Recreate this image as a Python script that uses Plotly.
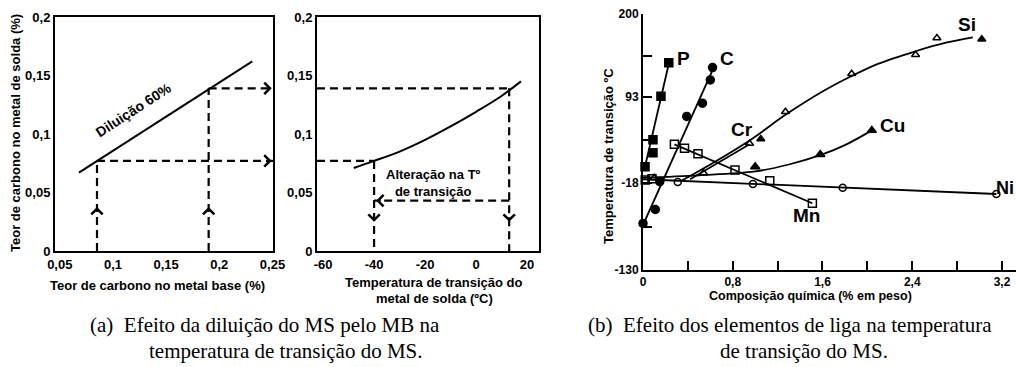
import plotly.graph_objects as go

W, H = 1016, 367

# ---------------- (a) left panel: dilution ----------------
dil_base = [0.068, 0.231]          # base-metal carbon along the 60% dilution line
dil_weld = [0.067, 0.162]          # weld-metal carbon along the line
sel_base = [0.085, 0.19]           # two base-metal carbon contents picked
sel_weld = [0.077, 0.139]          # resulting weld-metal carbon
xa_ticks = [0.05, 0.1, 0.15, 0.2, 0.25]
xa_labels = ['0,05', '0,1', '0,15', '0,2', '0,25']
yc_ticks = [0, 0.05, 0.1, 0.15, 0.2]
yc_labels = ['0', '0,05', '0,1', '0,15', '0,2']

# ---------------- middle panel: transition temperature ----------------
curve_temp = [-48, -40, -30, -20, -10, 0, 10, 17.6]
curve_carbon = [0.071, 0.077, 0.085, 0.095, 0.1065, 0.119, 0.1325, 0.145]
sel_temp = [-40, 13]
shift_level = 0.043
xm_ticks = [-60, -40, -20, 0, 20]
xm_labels = ['-60', '-40', '-20', '0', '20']

# ---------------- (b) right panel: alloying elements ----------------
P_x = [0.018, 0.089, 0.089, 0.16, 0.23]
P_y = [3, 21, 38, 94, 137]
P_line_x = [0.018, 0.235]
P_line_y = [3, 139]

C_x = [0.0, 0.11, 0.15, 0.39, 0.53, 0.60, 0.62]
C_y = [-70, -52, -16, 68, 85, 115, 131]
C_line_x = [0.0, 0.63]
C_line_y = [-72, 131]

Mn_x = [0.02, 0.08, 0.28, 0.37, 0.49, 0.82, 1.13, 1.51]
Mn_y = [-14, -12.5, 32, 27, 20, -1, -15, -44]
Mn_line_x = [0.28, 1.51]
Mn_line_y = [32, -44]

Ni_x = [0.31, 0.98, 1.78, 3.15]
Ni_y = [-16.5, -19, -24, -32]
Ni_line_x = [0.0, 3.15]
Ni_line_y = [-13, -32]

Cr_x = [0.10, 0.54, 0.95]
Cr_y = [-11, -5, 33]
Cr_line_x = [0.42, 0.95]
Cr_line_y = [-13, 32]

Si_x = [1.05, 1.27, 1.86, 2.43, 2.62, 3.02]
Si_y = [39, 74, 123, 147.5, 169, 167.5]
Si_filled = [True, False, False, False, False, True]
Si_curve_x = [0.33, 0.6, 0.95, 1.27, 1.6, 1.86, 2.1, 2.43, 2.7, 2.94]
Si_curve_y = [-16, 6, 37, 70, 100, 120, 136, 152, 163, 170]

Cu_x = [1.0, 1.58, 2.04]
Cu_y = [3, 19, 50]
Cu_curve_x = [0.0, 0.5, 1.0, 1.3, 1.58, 1.8, 2.04]
Cu_curve_y = [-11, -8, -3, 6, 18, 31, 50]

elem_names = ['P', 'C', 'Si', 'Cu', 'Cr', 'Mn', 'Ni']
elem_lab_x = [0.357, 0.749, 2.885, 2.22, 0.88, 1.46, 3.325]
elem_lab_y = [142.6, 142.6, 186, 56, 51, -59.5, -24]

xr_ticks = [0, 0.4, 0.8, 1.2, 1.6, 2.0, 2.4, 2.8, 3.2]
xr_labels = ['0', '', '0,8', '', '1,6', '', '2,4', '', '3,2']
yr_ticks = [-130, -74, -18, 37.5, 93, 146.5, 200]
yr_labels = ['-130', '', '-18', '', '93', '', '200']

# ---------------- figure ----------------
FONT = 'Liberation Sans, Arial, sans-serif'
SERIF = 'Liberation Serif, Times New Roman, serif'
DASH = '8px,5px'
DW = 2.2
fig = go.Figure()

XA_RANGE = [0.0455, 0.2505]
XM_RANGE = [-62.4, 24.7]


def line(x, y, xa, ya, dash=None, width=2, shape='linear'):
    fig.add_trace(go.Scatter(x=x, y=y, xaxis=xa, yaxis=ya, mode='lines',
                             line=dict(color='black', width=width, dash=dash, shape=shape),
                             hoverinfo='skip', showlegend=False, cliponaxis=False))


# left panel
line(dil_base, dil_weld, 'x', 'y')
for b, w in zip(sel_base, sel_weld):
    line([b, b], [0, w], 'x', 'y', dash=DASH, width=DW)
    line([b, XA_RANGE[1]], [w, w], 'x', 'y', dash=DASH, width=DW)

# middle panel
line(curve_temp, curve_carbon, 'x2', 'y2', shape='spline')
for t, w in zip(sel_temp, sel_weld):
    line([XM_RANGE[0], t], [w, w], 'x2', 'y2', dash=DASH, width=DW)
    line([t, t], [w, 0], 'x2', 'y2', dash=DASH, width=DW)
line([sel_temp[1], sel_temp[0]], [shift_level, shift_level], 'x2', 'y2', dash=DASH, width=DW)

# right panel lines
line(P_line_x, P_line_y, 'x3', 'y3', width=1.8)
line(C_line_x, C_line_y, 'x3', 'y3', width=1.8)
line(Mn_line_x, Mn_line_y, 'x3', 'y3', width=1.8)
line(Ni_line_x, Ni_line_y, 'x3', 'y3', width=1.8)
line(Cr_line_x, Cr_line_y, 'x3', 'y3', width=1.8)
line(Si_curve_x, Si_curve_y, 'x3', 'y3', width=1.8, shape='spline')
line(Cu_curve_x, Cu_curve_y, 'x3', 'y3', width=1.8, shape='spline')


def markers(x, y, symbol, size=7):
    fig.add_trace(go.Scatter(x=x, y=y, xaxis='x3', yaxis='y3', mode='markers',
                             marker=dict(symbol=symbol, size=size, color='black',
                                         line=dict(color='black', width=1.5)),
                             hoverinfo='skip', showlegend=False, cliponaxis=False))


markers(P_x, P_y, 'square', 8)
markers(C_x, C_y, 'circle', 8)
markers(Mn_x, Mn_y, 'square-open', 8)
markers(Ni_x, Ni_y, 'circle-open', 7)
markers(Cr_x, Cr_y, 'triangle-up-open', 7)
markers(Si_x, Si_y, ['triangle-up' if f else 'triangle-up-open' for f in Si_filled], 7)
markers(Cu_x, Cu_y, 'triangle-up', 8)

ann = []
# element labels
for n, x, y in zip(elem_names, elem_lab_x, elem_lab_y):
    ann.append(dict(x=x, y=y, xref='x3', yref='y3', text=n, showarrow=False,
                    xanchor='right' if n == 'Ni' else 'center',
                    font=dict(family=FONT, size=18 if n == 'Ni' else 19,
                              color='black', weight='bold')))


def chevron(x, y, xref, yref, ax, ay):
    ann.append(dict(x=x, y=y, xref=xref, yref=yref, ax=ax, ay=ay, text='',
                    showarrow=True, arrowhead=4, arrowsize=1.1, arrowwidth=2,
                    arrowcolor='black', standoff=0))


for b, w in zip(sel_base, sel_weld):
    chevron(XA_RANGE[1] - 0.0012, w, 'x', 'y', -6, 0)
    chevron(b, 0.0376, 'x', 'y', 0, 6)
for t in sel_temp:
    chevron(t, 0.025, 'x2', 'y2', 0, -6)
chevron(sel_temp[0] + 0.8, shift_level, 'x2', 'y2', 6, 0)

ann.append(dict(x=0.119, y=0.1205, xref='x', yref='y', text='Diluição 60%',
                textangle=-33, showarrow=False,
                font=dict(family=FONT, size=14, color='black', weight='bold')))
ann.append(dict(x=-16.5, y=0.0585, xref='x2', yref='y2',
                text='Alteração na Tº<br>de transição', showarrow=False,
                font=dict(family=FONT, size=13, color='black', weight='bold')))


def ptext(text, px, py, size=13, angle=0, family=FONT, weight='bold'):
    ann.append(dict(x=px / W, y=1 - py / H, xref='paper', yref='paper', text=text,
                    showarrow=False, textangle=angle, xanchor='center', yanchor='middle',
                    font=dict(family=family, size=size, color='black', weight=weight)))


ptext('Teor de carbono no metal de solda (%)', 15, 133, angle=-90)
ptext('Teor de carbono no metal base (%)', 157, 285)
ptext('Temperatura de transição do', 434, 282)
ptext('metal de solda (ºC)', 434, 298)
ptext('Temperatura de transição ºC', 608, 156, angle=-90)
ptext('Composição química (% em peso)', 810, 296, size=12.5)

ptext('(a)  Efeito da diluição do MS pelo MB na', 265, 325, size=21, family=SERIF, weight='normal')
ptext('temperatura de transição do MS.', 286, 351, size=21, family=SERIF, weight='normal')
ptext('(b)  Efeito dos elementos de liga na temperatura', 790, 325, size=21, family=SERIF, weight='normal')
ptext('de transição do MS.', 804, 351, size=21, family=SERIF, weight='normal')

tickfont = dict(family=FONT, size=13, color='black', weight='bold')
box_axis = dict(showline=True, linewidth=2, linecolor='black', mirror=True,
                showgrid=False, zeroline=False, ticks='', tickfont=tickfont,
                automargin=False)
y_dom = [1 - 251 / H, 1 - 17 / H]

fig.update_layout(
    width=W, height=H,
    margin=dict(l=0, r=0, t=0, b=0, autoexpand=False),
    paper_bgcolor='white', plot_bgcolor='white',
    showlegend=False,
    annotations=ann,
    xaxis=dict(domain=[55 / W, 273 / W], range=XA_RANGE, anchor='y',
               tickvals=xa_ticks, ticktext=xa_labels, **box_axis),
    yaxis=dict(domain=y_dom, range=[0, 0.2], anchor='x',
               tickvals=yc_ticks, ticktext=yc_labels, **box_axis),
    xaxis2=dict(domain=[317 / W, 539 / W], range=XM_RANGE, anchor='y2',
                tickvals=xm_ticks, ticktext=xm_labels, **box_axis),
    yaxis2=dict(domain=y_dom, range=[0, 0.2], anchor='x2',
                tickvals=yc_ticks, ticktext=yc_labels, **box_axis),
    xaxis3=dict(domain=[643 / W, 1.0], range=[0, 3.325], anchor='y3',
                showline=True, linewidth=2, linecolor='black', showgrid=False,
                zeroline=False, ticks='inside', ticklen=9, tickwidth=2, tickcolor='black',
                tickvals=xr_ticks, ticktext=xr_labels, automargin=False,
                ticklabelstandoff=0,
                tickfont=dict(family=FONT, size=12, color='black', weight='bold')),
    yaxis3=dict(domain=[1 - 270 / H, 1 - 14 / H], range=[-130, 200], anchor='x3',
                showline=True, linewidth=2, linecolor='black', showgrid=False,
                zeroline=False, ticks='inside', ticklen=9, tickwidth=2, tickcolor='black',
                tickvals=yr_ticks, ticktext=yr_labels, automargin=False,
                tickfont=dict(family=FONT, size=12, color='black', weight='bold')),
)

fig.write_html('out.html')
